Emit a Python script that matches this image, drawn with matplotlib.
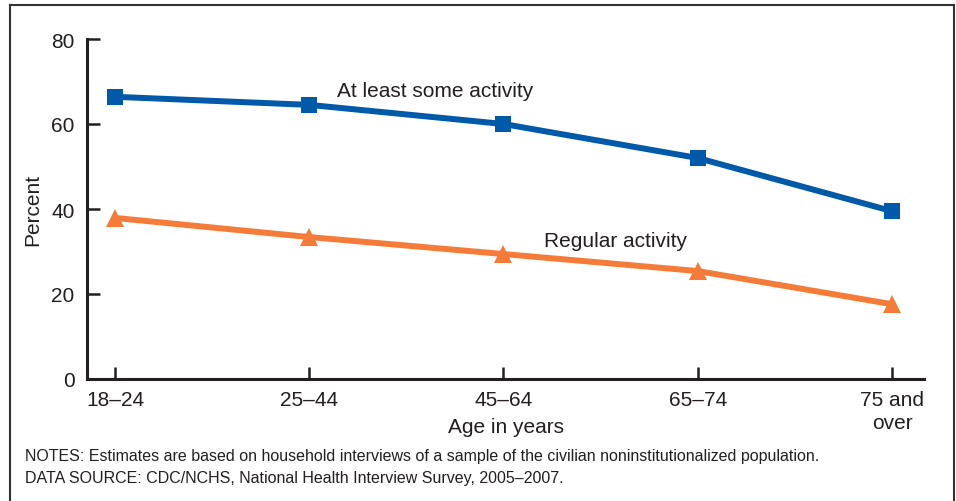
import matplotlib
matplotlib.use("Agg")
import matplotlib.pyplot as plt
from matplotlib.lines import Line2D

categories = ["18\u201324", "25\u201344", "45\u201364", "65\u201374", "75 and\nover"]
some_activity = [66.4, 64.5, 60.0, 52.0, 39.5]
regular_activity = [37.9, 33.4, 29.4, 25.4, 17.6]
yticks = [0, 20, 40, 60, 80]

plt.rcParams['font.family'] = ['Liberation Sans', 'DejaVu Sans']

W, H = 956, 502
fig = plt.figure(figsize=(W / 100, H / 100), dpi=100)
ax = fig.add_axes([87 / W, 1 - 380 / H, (924 - 87) / W, (380 - 40) / H])

x = list(range(len(categories)))
blue = "#0059A9"
orange = "#F47C38"
txt = "#231f20"
ax.plot(x, some_activity, color=blue, lw=4.3, marker="s", ms=11, mew=0, zorder=3, clip_on=False)
ax.plot(x, regular_activity, color=orange, lw=4.3, marker="^", ms=13, mew=0, zorder=3, clip_on=False)

ax.set_xlim(-0.144, 4.165)
ax.set_ylim(0, 80)
ax.set_yticks(yticks)
ax.set_xticks(x)
ax.set_xticklabels(categories, fontsize=15, color=txt, linespacing=1.25)
ax.set_yticklabels([str(v) for v in yticks], fontsize=15, color=txt)
for s in ["top", "right"]:
    ax.spines[s].set_visible(False)
for s in ["left", "bottom"]:
    ax.spines[s].set_linewidth(2.2)
    ax.spines[s].set_color(txt)
ax.tick_params(axis="x", direction="in", length=9, width=1.8, color=txt, pad=8)
ax.tick_params(axis="y", direction="in", length=9, width=1.8, color=txt, pad=9)

ax.text(0.5, (380 - 428) / 340, "Age in years", fontsize=15, color=txt, ha="center", va="center",
        transform=ax.transAxes)
ax.text((33 - 87) / 837, 0.5, "Percent", fontsize=15, color=txt, ha="center", va="center",
        rotation=90, transform=ax.transAxes)

ax.text(1.143, 67.8, "At least some activity", fontsize=15, color=txt, ha="left", va="center")
ax.text(2.209, 32.7, "Regular activity", fontsize=15, color=txt, ha="left", va="center")

fig.text(25 / W, 1 - 457 / H, "NOTES: Estimates are based on household interviews of a sample of the civilian noninstitutionalized population.",
         fontsize=11.5, color=txt, ha="left", va="center")
fig.text(25 / W, 1 - 479 / H, "DATA SOURCE: CDC/NCHS, National Health Interview Survey, 2005\u20132007.",
         fontsize=11.5, color=txt, ha="left", va="center")

# frame around figure (open at bottom)
fx0, fx1, fy = 10 / W, 954 / W, 1 - 6 / H
for xs, ys in [([fx0, fx0], [0, fy]), ([fx0, fx1], [fy, fy]), ([fx1, fx1], [fy, 0])]:
    fig.add_artist(Line2D(xs, ys, color="#333333", lw=1.5, transform=fig.transFigure))

fig.savefig("out.png", dpi=100)
